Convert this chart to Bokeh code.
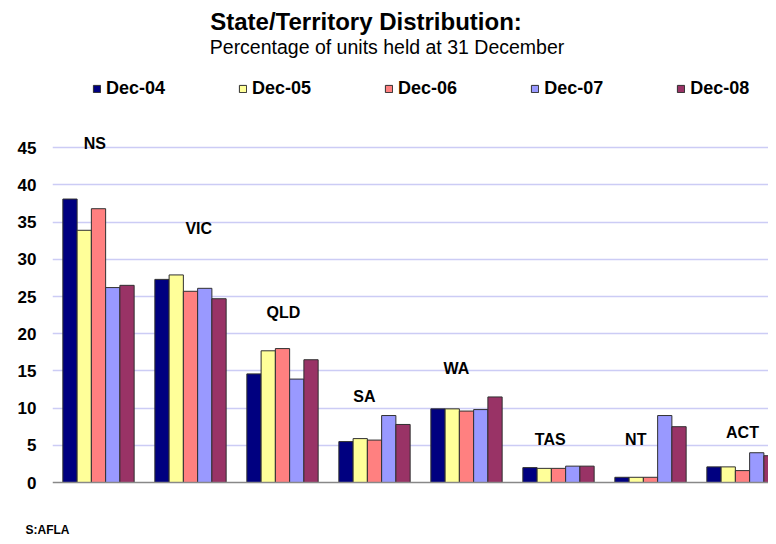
import numpy as np
from bokeh.plotting import figure
from bokeh.models import (ColumnDataSource, Range1d, FixedTicker, Span, Label,
                          Legend, LegendItem, Title)
from bokeh.core.properties import value
from bokeh.embed import file_html
from bokeh.resources import INLINE

# ---- data ----
states = ["NS", "VIC", "QLD", "SA", "WA", "TAS", "NT", "ACT"]
series_names = ["Dec-04", "Dec-05", "Dec-06", "Dec-07", "Dec-08"]
dec04 = [38.1, 27.3, 14.6, 5.5, 9.9, 2.0, 0.7, 2.1]
dec05 = [33.9, 27.9, 17.7, 5.9, 9.9, 1.9, 0.7, 2.1]
dec06 = [36.8, 25.7, 18.0, 5.7, 9.6, 1.9, 0.7, 1.6]
dec07 = [26.2, 26.1, 13.9, 9.0, 9.8, 2.2, 9.0, 4.0]
dec08 = [26.5, 24.7, 16.5, 7.8, 11.5, 2.2, 7.5, 3.6]
y_ticks = [0, 5, 10, 15, 20, 25, 30, 35, 40, 45]

# ---- layout / style ----
colors = ["#000080", "#ffff99", "#ff8080", "#9999ff", "#993366"]
label_dx = [-0.04, 0.09, 0.01, -0.11, -0.11, -0.09, -0.16, 0.0]
label_y = [45.6, 34.1, 22.8, 11.6, 15.3, 5.8, 5.8, 6.7]
FONT = "Liberation Sans"
bar_w = 0.155
W, H = 768, 536
LEFT = 52
FOOT_H = 16          # height taken by the footnote panel below the frame
PX_PER_UNIT = 7.44
ZERO_Y = 482
frame_bottom = H - FOOT_H

p = figure(width=W, height=H, output_backend="svg", toolbar_location=None,
           x_range=Range1d(0, (W - LEFT) / 92.0),
           y_range=Range1d(-(frame_bottom - ZERO_Y) / PX_PER_UNIT, ZERO_Y / PX_PER_UNIT),
           min_border_left=LEFT, min_border_right=0, min_border_top=0,
           min_border_bottom=0, outline_line_color=None)
p.background_fill_color = "white"
p.xaxis.visible = False
p.xgrid.visible = False

yax = p.yaxis[0]
yax.ticker = FixedTicker(ticks=y_ticks)
yax.axis_line_color = None
yax.major_tick_line_color = None
yax.minor_tick_line_color = None
yax.major_tick_in = 0
yax.major_tick_out = 0
yax.major_label_standoff = 16
yax.major_label_text_font = FONT
yax.major_label_text_font_style = "bold"
yax.major_label_text_font_size = "17px"
yax.major_label_text_color = "black"

p.ygrid.ticker = FixedTicker(ticks=y_ticks[1:])
p.ygrid.grid_line_color = "#ccccf5"
p.ygrid.grid_line_width = 1.5

centers = np.arange(len(states)) + 0.5
all_series = [dec04, dec05, dec06, dec07, dec08]
renderers = []
for j, (name, vals) in enumerate(zip(series_names, all_series)):
    src = ColumnDataSource(dict(x=centers + (j - 2) * bar_w, top=vals))
    r = p.vbar(x="x", top="top", bottom=0, width=bar_w, source=src,
               fill_color=colors[j], line_color="#303030", line_width=1)
    renderers.append(r)

p.add_layout(Span(location=0, dimension="width", line_color="#888888",
                  line_width=1.5))

lsrc = ColumnDataSource(dict(x=centers + np.array(label_dx), y=label_y, t=states))
p.text(x="x", y="y", text="t", source=lsrc, text_font=value(FONT),
       text_font_style="bold", text_font_size="16px", text_align="center",
       text_baseline="middle", text_color="black")

legend = Legend(items=[LegendItem(label=n, renderers=[r])
                       for n, r in zip(series_names, renderers)],
                orientation="horizontal", location=(40, frame_bottom - 99),
                spacing=73, glyph_width=9, glyph_height=9, label_standoff=5,
                padding=0, margin=0, border_line_color=None,
                background_fill_alpha=0, label_text_font=FONT,
                label_text_font_style="bold", label_text_font_size="18px",
                label_text_color="black", label_height=20)
p.add_layout(legend)

p.add_layout(Label(x=3.408, y=62.0, text="State/Territory Distribution:",
                   text_font=FONT, text_font_style="bold", text_font_size="24px",
                   text_color="black", text_align="center", text_baseline="middle"))
p.add_layout(Label(x=3.636, y=58.5, text="Percentage of units held at 31 December",
                   text_font=FONT, text_font_size="19.5px", text_color="black",
                   text_align="center", text_baseline="middle"))

foot = Title(text="S:AFLA", align="left", offset=-27, text_font=FONT,
             text_font_style="bold", text_font_size="12px", standoff=0,
             vertical_align="bottom", text_color="black")
p.add_layout(foot, "below")

open("out.html", "w").write(file_html(p, INLINE))
